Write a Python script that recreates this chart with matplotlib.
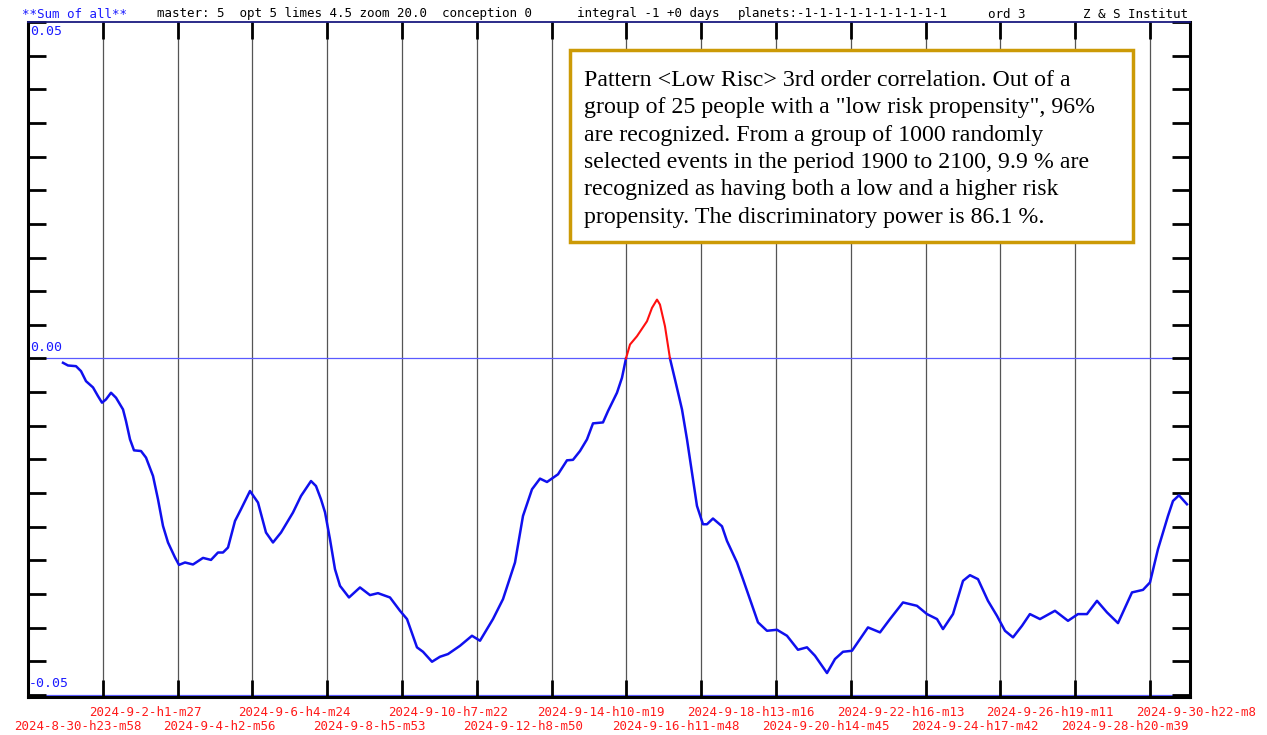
import matplotlib
matplotlib.use("Agg")
import matplotlib.pyplot as plt
import matplotlib.transforms as mtransforms
from matplotlib.patches import Rectangle
import numpy as np

# time axis: days since 2024-8-30 h23 m58, grid every 2d 1h29m
grid_step = 2 + 1 / 24 + 29 / 1440
date_labels = [
    "2024-8-30-h23-m58", "2024-9-2-h1-m27", "2024-9-4-h2-m56", "2024-9-6-h4-m24",
    "2024-9-8-h5-m53", "2024-9-10-h7-m22", "2024-9-12-h8-m50", "2024-9-14-h10-m19",
    "2024-9-16-h11-m48", "2024-9-18-h13-m16", "2024-9-20-h14-m45", "2024-9-22-h16-m13",
    "2024-9-24-h17-m42", "2024-9-26-h19-m11", "2024-9-28-h20-m39", "2024-9-30-h22-m8",
]

days = [
    0.965, 1.103, 1.323, 1.461, 1.599, 1.792, 1.929, 2.040, 2.150, 2.288,
    2.426, 2.619, 2.701, 2.812, 2.922, 3.115, 3.253, 3.446, 3.583, 3.721,
    3.859, 4.052, 4.162, 4.328, 4.548, 4.824, 5.044, 5.237, 5.375, 5.513,
    5.706, 5.871, 6.119, 6.340, 6.560, 6.753, 6.974, 7.304, 7.525, 7.801,
    7.938, 8.076, 8.187, 8.324, 8.462, 8.600, 8.848, 9.151, 9.427, 9.647,
    9.978, 10.254, 10.447, 10.722, 10.888, 11.136, 11.356, 11.577, 11.908, 12.238,
    12.459, 12.817, 13.093, 13.424, 13.644, 13.892, 14.113, 14.306, 14.609, 14.857,
    15.022, 15.215, 15.408, 15.574, 15.849, 15.987, 16.235, 16.373, 16.483, 16.594,
    16.786, 17.062, 17.200, 17.338, 17.420, 17.558, 17.696, 17.834, 18.027, 18.165,
    18.302, 18.440, 18.606, 18.716, 18.881, 19.129, 19.267, 19.543, 19.708, 19.901,
    20.122, 20.370, 20.645, 20.921, 21.224, 21.472, 21.693, 22.024, 22.244, 22.465,
    22.713, 22.933, 23.154, 23.485, 23.760, 24.119, 24.504, 24.780, 25.056, 25.221,
    25.497, 25.773, 25.965, 26.186, 26.461, 26.709, 26.930, 27.151, 27.399, 27.617,
    27.895, 28.308, 28.667, 28.942, 29.190, 29.466, 29.742, 30.045, 30.431, 30.734,
    30.927, 31.147, 31.423, 31.561, 31.726, 31.947,
]
values = [
    -0.00064, -0.00104, -0.00114, -0.00188, -0.00337, -0.00430, -0.00559, -0.00657, -0.00608, -0.00509,
    -0.00583, -0.00757, -0.00930, -0.01202, -0.01365, -0.01375, -0.01473, -0.01746, -0.02092, -0.02488,
    -0.02734, -0.02957, -0.03067, -0.03031, -0.03061, -0.02963, -0.02993, -0.02883, -0.02883, -0.02809,
    -0.02414, -0.02240, -0.01969, -0.02141, -0.02586, -0.02734, -0.02586, -0.02289, -0.02043, -0.01821,
    -0.01895, -0.02092, -0.02285, -0.02686, -0.03131, -0.03378, -0.03551, -0.03402, -0.03516, -0.03487,
    -0.03551, -0.03749, -0.03872, -0.04292, -0.04358, -0.04506, -0.04432, -0.04392, -0.04269, -0.04120,
    -0.04194, -0.03872, -0.03576, -0.03031, -0.02340, -0.01944, -0.01785, -0.01835, -0.01721, -0.01513,
    -0.01506, -0.01375, -0.01202, -0.00964, -0.00950, -0.00782, -0.00509, -0.00286, 0.0, 0.00208,
    0.00331, 0.00553, 0.00752, 0.00875, 0.00801, 0.00479, 0.0, -0.00312, -0.00757, -0.01202,
    -0.01696, -0.02191, -0.02463, -0.02463, -0.02378, -0.02493, -0.02711, -0.03031, -0.03279, -0.03576,
    -0.03921, -0.04046, -0.04031, -0.04120, -0.04328, -0.04292, -0.04417, -0.04674, -0.04466, -0.04358,
    -0.04343, -0.04169, -0.03996, -0.04070, -0.03872, -0.03625, -0.03675, -0.03798, -0.03872, -0.04021,
    -0.03798, -0.03304, -0.03220, -0.03279, -0.03601, -0.03824, -0.04046, -0.04144, -0.03972, -0.03798,
    -0.03872, -0.03749, -0.03898, -0.03798, -0.03798, -0.03601, -0.03773, -0.03932, -0.03476, -0.03438,
    -0.03328, -0.02834, -0.02340, -0.02117, -0.02033, -0.02166,
]

header_parts = [
    ("**Sum of all**", 22, "#1a1aff"),
    ("master: 5  opt 5 limes 4.5 zoom 20.0  conception 0", 157, "black"),
    ("integral -1 +0 days", 577, "black"),
    ("planets:-1-1-1-1-1-1-1-1-1-1", 738, "black"),
    ("ord 3", 988, "black"),
    ("Z & S Institut", 1083, "black"),
]
note_lines = [
    "Pattern <Low Risc> 3rd order correlation. Out of a",
    "group of 25 people with a \"low risk propensity\", 96%",
    "are recognized. From a group of 1000 randomly",
    "selected events in the period 1900 to 2100, 9.9 % are",
    "recognized as having both a low and a higher risk",
    "propensity. The discriminatory power is 86.1 %.",
]

W, H = 1267, 735
fig = plt.figure(figsize=(W / 100, H / 100), dpi=100)
ax = fig.add_axes([28 / W, 38 / H, (1190 - 28) / W, (697 - 22) / H])

days = np.array(days)
values = np.array(values)
tick_days = np.arange(len(date_labels)) * grid_step

ax.set_xlim(0, 32.03)
ax.set_ylim(-0.0503, 0.05)

# grid and reference lines
for d in tick_days[1:]:
    ax.axvline(d, color="#555555", lw=0.9, zorder=1)
ax.axhline(0.0, color="#5a5aff", lw=0.9, zorder=1)
ax.axhline(-0.05, color="#5a5aff", lw=0.9, zorder=1)

# curve: blue below zero, red above
neg = np.ma.masked_where(values > 0, values)
ax.plot(days, neg, color="#1010ee", lw=1.8, zorder=3)
pos = values >= 0
ax.plot(days[pos], values[pos], color="#ff1010", lw=1.5, zorder=4)

ax.set_xticks(tick_days[1:])
ax.set_yticks(np.arange(-0.05, 0.0501, 0.005))
ax.tick_params(axis="x", direction="in", length=12, width=2, top=True, bottom=True,
               labelbottom=False, color="black")
ax.tick_params(axis="y", direction="in", length=13, width=2, left=True, right=True,
               labelleft=False, color="black")
for s in ["left", "right", "bottom"]:
    ax.spines[s].set_linewidth(2.2)
    ax.spines[s].set_color("black")
ax.spines["top"].set_color("#1a1a80")
ax.spines["top"].set_linewidth(1.3)

mono = "DejaVu Sans Mono"
# y labels inside plot
ytrans = mtransforms.blended_transform_factory(ax.transAxes, ax.transData)
ax.text(0.002, 0.05 - 0.0004, "0.05", transform=ytrans, color="#1a1aff",
        family=mono, fontsize=9.5, va="top", ha="left")
ax.text(0.002, 0.0007, "0.00", transform=ytrans, color="#1a1aff",
        family=mono, fontsize=9.5, va="bottom", ha="left")
ax.text(0.001, -0.0493, "-0.05", transform=ytrans, color="#1a1aff",
        family=mono, fontsize=9.5, va="bottom", ha="left")

# date labels below axis, alternating rows
xtrans = mtransforms.blended_transform_factory(ax.transData, ax.transAxes)
for i, (d, lab) in enumerate(zip(tick_days, date_labels)):
    dy = -16 if i % 2 else -29
    off = mtransforms.ScaledTranslation(-14 / 100, dy / 100, fig.dpi_scale_trans)
    ax.text(d, 0, lab, transform=xtrans + off, color="#ff1a1a", family=mono,
            fontsize=9, ha="left", va="center", clip_on=False)

# header
for txt, px, col in header_parts:
    fig.text(px / W, 1 - 14 / H, txt, color=col, family=mono, fontsize=9,
             ha="left", va="center")

# annotation box
fig.patches.append(Rectangle((570 / W, 1 - 242 / H), (1133 - 570) / W, (242 - 50) / H,
                             transform=fig.transFigure, fill=True, facecolor="white",
                             edgecolor="#cc9a06", lw=2.5, zorder=5))
for k, line in enumerate(note_lines):
    fig.text(584 / W, 1 - (80 + k * 27.5) / H, line, family="Liberation Serif",
             fontsize=17.2, ha="left", va="center", zorder=6)

fig.savefig("out.png", dpi=100)
